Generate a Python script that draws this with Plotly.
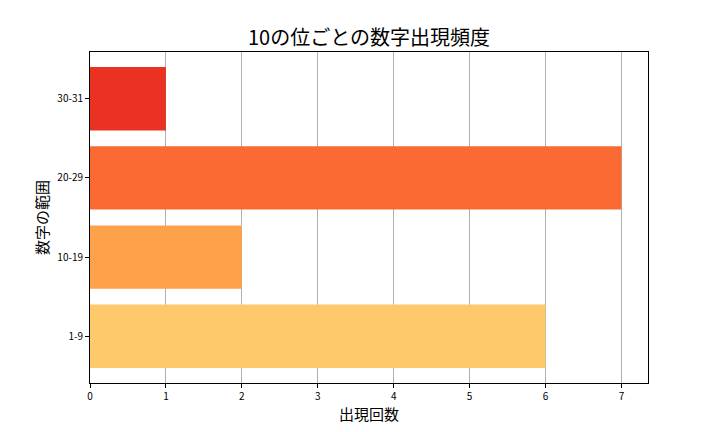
import plotly.graph_objects as go

# data
ranges = ['1-9', '10-19', '20-29', '30-31']
counts = [6, 2, 7, 1]
colors = ['#FDC96A', '#FDA14A', '#FC6A33', '#E93222']

font_jp = 'Noto Sans CJK JP'

# page body adds an 8px offset, so the figure is 8px smaller than the window
W, H = 712, 424

fig = go.Figure()

fig.add_trace(go.Bar(
    y=ranges,
    x=counts,
    orientation='h',
    width=0.8,
    marker=dict(color=colors, line=dict(width=0)),
))

fig.update_layout(
    title=dict(
        text='10の位ごとの数字出現頻度',
        x=361 / W, xanchor='center',
        y=1 - 30 / H, yanchor='middle',
        font=dict(family=font_jp, size=20, color='black'),
    ),
    xaxis=dict(
        title=dict(text='出現回数', font=dict(family=font_jp, size=15, color='black'), standoff=6),
        range=[0, 7.35],
        tickmode='array', tickvals=list(range(8)),
        showgrid=True, gridcolor='#b0b0b0', gridwidth=1,
        showline=True, linecolor='black', linewidth=1, mirror=True,
        ticks='outside', ticklen=4, tickcolor='black',
        tickfont=dict(family=font_jp, size=10, color='black'),
        zeroline=False,
    ),
    yaxis=dict(
        title=dict(text='数字の範囲', font=dict(family=font_jp, size=15, color='black'), standoff=5),
        range=[-0.59, 3.59],
        showgrid=False,
        showline=True, linecolor='black', linewidth=1, mirror=True,
        ticks='outside', ticklen=4, tickcolor='black',
        tickfont=dict(family=font_jp, size=10, color='black'),
    ),
    plot_bgcolor='white',
    paper_bgcolor='white',
    showlegend=False,
    width=W, height=H,
    margin=dict(l=82, r=72, t=44, b=49),
)

fig.write_html('out.html')
